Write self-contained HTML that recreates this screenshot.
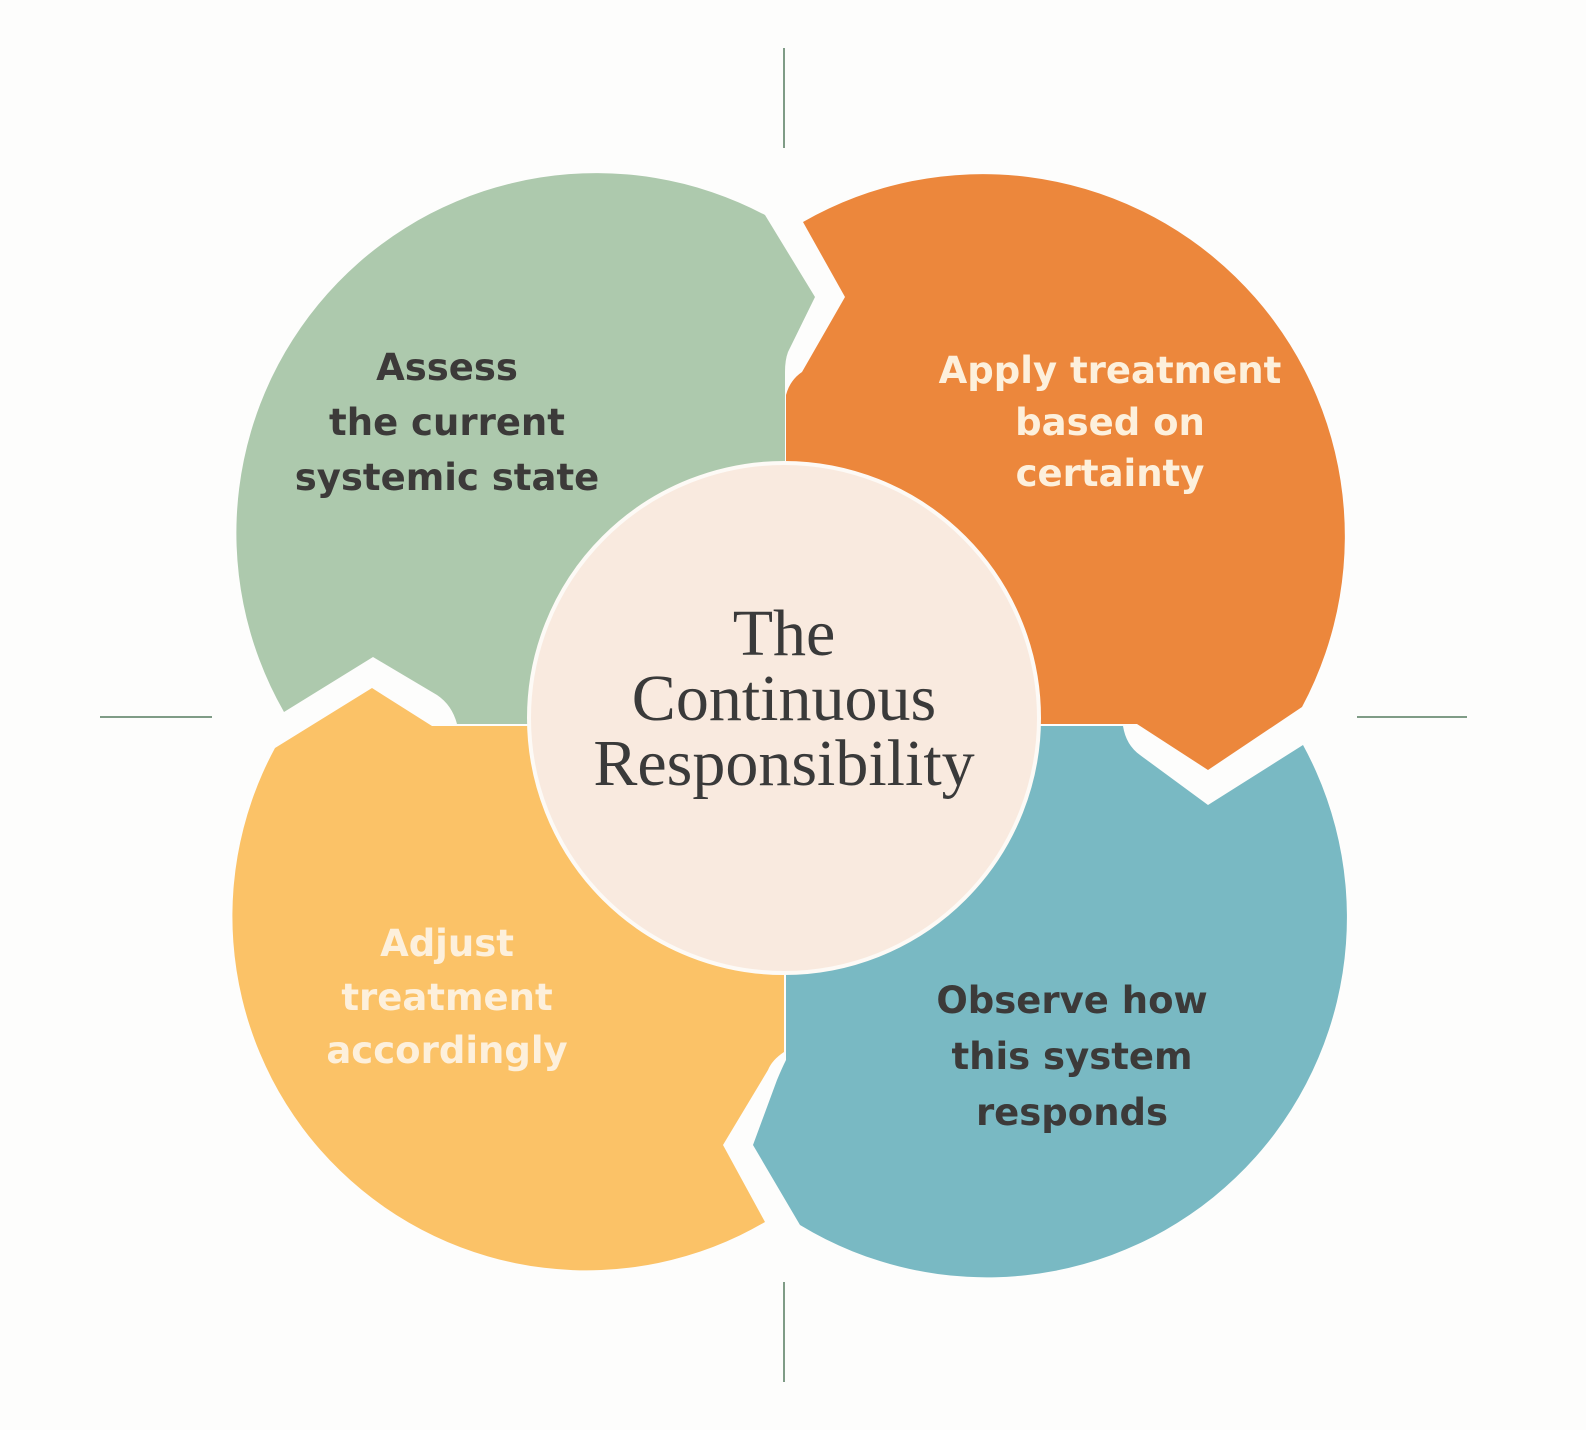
<!DOCTYPE html>
<html><head><meta charset="utf-8"><style>
html,body{margin:0;padding:0;background:#fdfdfc;}
svg{display:block}
.b{font-family:"DejaVu Sans","Liberation Sans",sans-serif;font-weight:bold;font-size:37px;text-anchor:middle}
.s{font-family:"Liberation Serif","DejaVu Serif",serif;font-size:66px;fill:#3a3a3a;text-anchor:middle}
</style></head><body>
<svg width="1586" height="1430" viewBox="0 0 1586 1430" xmlns="http://www.w3.org/2000/svg">
<rect width="1586" height="1430" fill="#fdfdfc"/>
<g stroke="#7f9c86" stroke-width="2">
<line x1="784" y1="48" x2="784" y2="148"/>
<line x1="784" y1="1282" x2="784" y2="1382"/>
<line x1="100" y1="717" x2="212" y2="717"/>
<line x1="1357" y1="717" x2="1467" y2="717"/>
</g>
<path fill="#adc9ad" d="M784 724 L457 724 Q452 705 437 695 L373 657 L284 712 A360 360 0 0 1 765 215 L815 297 L788 352 Q785 360 785 372 L785 724 Z"/>
<path fill="#ec873c" d="M803 222 A362 362 0 0 1 1302 707 L1208 770 L1137 724 L786 724 L786 395 Q790 380 802 372 L845 297 Z"/>
<path fill="#79b9c3" d="M786 726 L1123 726 Q1126 745 1140 755 L1208 805 L1303 745 A360 360 0 0 1 800 1225 L753 1145 L777 1080 Q782 1068 786 1060 Z"/>
<path fill="#fbc267" d="M784 726 L784 1052 Q772 1060 768 1070 L723 1145 L765 1222 A354 354 0 0 1 275 748 L372 688 L432 726 Z"/>
<circle cx="784" cy="718" r="255" fill="#f9eadf" stroke="#fdfaf6" stroke-width="4"/>
<g class="b" fill="#3c3a39">
<text x="447" y="380">Assess</text>
<text x="447" y="435">the current</text>
<text x="447" y="490">systemic state</text>
</g>
<g class="b" fill="#fdf0dc">
<text x="1110" y="383">Apply treatment</text>
<text x="1110" y="435">based on</text>
<text x="1110" y="486">certainty</text>
<text x="447" y="956">Adjust</text>
<text x="447" y="1010">treatment</text>
<text x="447" y="1063">accordingly</text>
</g>
<g class="b" fill="#3c3a39">
<text x="1072" y="1013">Observe how</text>
<text x="1072" y="1069">this system</text>
<text x="1072" y="1125">responds</text>
</g>
<text class="s" x="784" y="655">The</text>
<text class="s" x="784" y="720">Continuous</text>
<text class="s" x="784" y="785">Responsibility</text>
</svg>
</body></html>
